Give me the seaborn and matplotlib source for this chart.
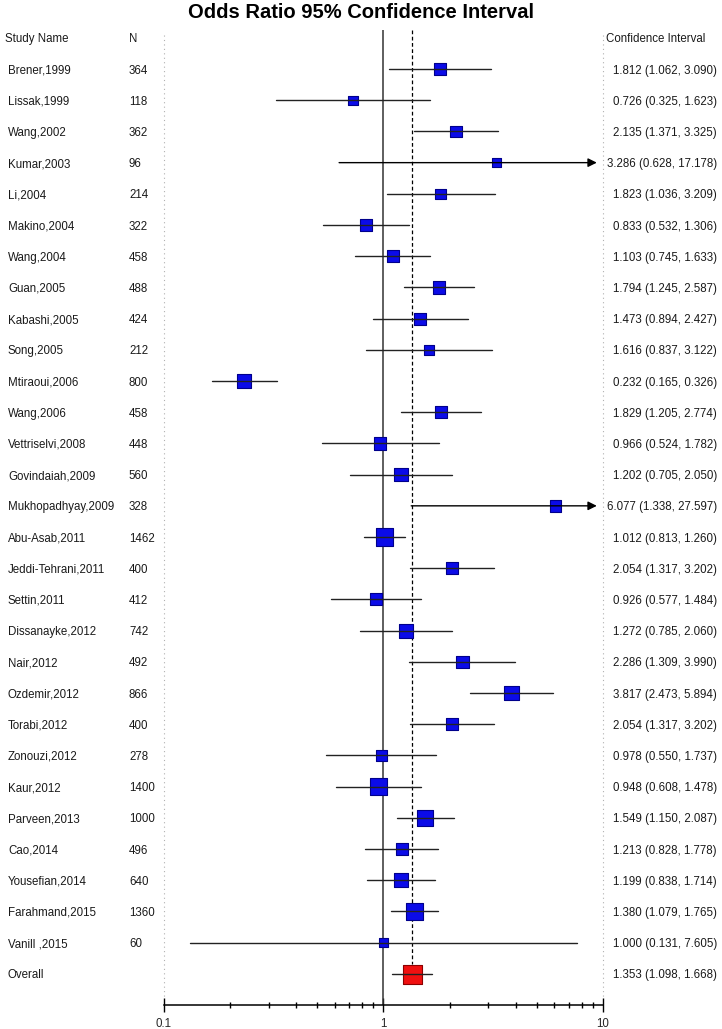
import numpy as np
import pandas as pd
import matplotlib
matplotlib.use("Agg")
import matplotlib.pyplot as plt
import matplotlib.ticker as mticker
import seaborn as sns

# study rows, top to bottom
studies = [
    "Brener,1999", "Lissak,1999", "Wang,2002", "Kumar,2003", "Li,2004",
    "Makino,2004", "Wang,2004", "Guan,2005", "Kabashi,2005", "Song,2005",
    "Mtiraoui,2006", "Wang,2006", "Vettriselvi,2008", "Govindaiah,2009",
    "Mukhopadhyay,2009", "Abu-Asab,2011", "Jeddi-Tehrani,2011", "Settin,2011",
    "Dissanayke,2012", "Nair,2012", "Ozdemir,2012", "Torabi,2012",
    "Zonouzi,2012", "Kaur,2012", "Parveen,2013", "Cao,2014", "Yousefian,2014",
    "Farahmand,2015", "Vanill ,2015",
]
n_sizes = [364, 118, 362, 96, 214, 322, 458, 488, 424, 212, 800, 458, 448, 560,
           328, 1462, 400, 412, 742, 492, 866, 400, 278, 1400, 1000, 496, 640,
           1360, 60]
odds = [1.812, 0.726, 2.135, 3.286, 1.823, 0.833, 1.103, 1.794, 1.473, 1.616,
        0.232, 1.829, 0.966, 1.202, 6.077, 1.012, 2.054, 0.926, 1.272, 2.286,
        3.817, 2.054, 0.978, 0.948, 1.549, 1.213, 1.199, 1.380, 1.000]
ci_low = [1.062, 0.325, 1.371, 0.628, 1.036, 0.532, 0.745, 1.245, 0.894, 0.837,
          0.165, 1.205, 0.524, 0.705, 1.338, 0.813, 1.317, 0.577, 0.785, 1.309,
          2.473, 1.317, 0.550, 0.608, 1.150, 0.828, 0.838, 1.079, 0.131]
ci_high = [3.090, 1.623, 3.325, 17.178, 3.209, 1.306, 1.633, 2.587, 2.427, 3.122,
           0.326, 2.774, 1.782, 2.050, 27.597, 1.260, 3.202, 1.484, 2.060, 3.990,
           5.894, 3.202, 1.737, 1.478, 2.087, 1.778, 1.714, 1.765, 7.605]

overall_label = "Overall"
overall_or = 1.353
overall_low = 1.098
overall_high = 1.668

x_ticks = [0.1, 1, 10]

df = pd.DataFrame({"Study": studies, "N": n_sizes, "OR": odds,
                   "Low": ci_low, "High": ci_high})
df["row"] = np.arange(len(df))
overall_row = len(df)

sns.set_theme(style="white")
plt.rcParams["font.family"] = ["Liberation Sans", "DejaVu Sans"]

fig = plt.figure(figsize=(7.22, 10.29), dpi=100)
ax = fig.add_axes([0.2271, 0.0233, 0.608, 0.9475])
ax.set_xscale("log")
ax.set_xlim(0.1, 10)
ax.set_ylim(30, -1.25)

# reference lines
ax.axvline(1, color="#333333", lw=1.1, zorder=1)
ax.plot([overall_or, overall_or], [-1.25, overall_row - 0.3], color="black",
        lw=0.9, ls=(0, (3, 2)), zorder=1)
for xv in (0.1, 10):
    ax.plot([xv, xv], [-1.1, overall_row + 0.8], color="#b0b0b0", lw=0.8,
            ls=(0, (1, 3)), zorder=0, clip_on=False)

# squares sized by sample size
marker_px = 6 + 0.3 * np.sqrt(df["N"].to_numpy())
sns.scatterplot(data=df, x="OR", y="row", marker="s", s=(marker_px * 0.72) ** 2,
                color="#0b0be8", edgecolor="#00008b", linewidth=0.8,
                zorder=2, legend=False, ax=ax)
ax.scatter([overall_or], [overall_row], marker="s", s=(19 * 0.72) ** 2,
           color="#f01010", edgecolor="#8b0000", linewidth=0.8, zorder=2)

# confidence intervals
tr = ax.get_yaxis_transform()
for _, r in df.iterrows():
    if r["High"] > 10:
        ax.annotate("", xy=(0.986, r["row"]), xycoords=tr,
                    xytext=(r["Low"], r["row"]), textcoords="data",
                    arrowprops=dict(arrowstyle="-|>", color="black", lw=1.0,
                                    mutation_scale=13, shrinkA=0, shrinkB=0),
                    zorder=3, annotation_clip=False)
    else:
        ax.plot([r["Low"], r["High"]], [r["row"], r["row"]], color="#222222",
                lw=1.0, zorder=3)
ax.plot([overall_low, overall_high], [overall_row, overall_row],
        color="#222222", lw=1.0, zorder=3)

# text columns
fs = 8.3
txt = "#1a1a1a"
va = "center_baseline"
name_x, n_x, ci_x = -0.3554, -0.0797, 1.2597
ax.text(-0.362, -1, "Study Name", transform=tr, ha="left", va=va,
        fontsize=fs, color=txt)
ax.text(n_x, -1, "N", transform=tr, ha="left", va=va, fontsize=fs, color=txt)
ax.text(1.0068, -1, "Confidence Interval", transform=tr, ha="left",
        va=va, fontsize=fs, color=txt)
for _, r in df.iterrows():
    ax.text(name_x, r["row"], r["Study"], transform=tr, ha="left",
            va=va, fontsize=fs, color=txt)
    ax.text(n_x, r["row"], f"{r['N']}", transform=tr, ha="left",
            va=va, fontsize=fs, color=txt)
    ax.text(ci_x, r["row"], f"{r['OR']:.3f} ({r['Low']:.3f}, {r['High']:.3f})",
            transform=tr, ha="right", va=va, fontsize=fs, color=txt)
ax.text(name_x, overall_row, overall_label, transform=tr, ha="left",
        va=va, fontsize=fs, color=txt)
ax.text(ci_x, overall_row,
        f"{overall_or:.3f} ({overall_low:.3f}, {overall_high:.3f})",
        transform=tr, ha="right", va=va, fontsize=fs, color=txt)

# axis styling
for side in ("left", "right", "top"):
    ax.spines[side].set_visible(False)
ax.spines["bottom"].set_color("black")
ax.spines["bottom"].set_linewidth(1.1)
ax.set_yticks([])
ax.set_xticks(x_ticks)
ax.xaxis.set_major_formatter(mticker.FuncFormatter(lambda v, _: f"{v:g}"))
ax.xaxis.set_minor_locator(mticker.LogLocator(base=10, subs=np.arange(2, 10)))
ax.xaxis.set_minor_formatter(mticker.NullFormatter())
ax.tick_params(axis="x", which="major", direction="inout", length=10,
               width=1.0, color="black", labelsize=fs, pad=4, bottom=True)
ax.tick_params(axis="x", which="minor", direction="inout", length=5,
               width=1.0, color="black", bottom=True)
ax.set_xlabel("")
ax.set_ylabel("")

fig.text(0.5, 0.988, "Odds Ratio 95% Confidence Interval", ha="center",
         va="center", fontsize=14.5, fontweight="bold", color="black")

fig.savefig("out.png", dpi=100)
